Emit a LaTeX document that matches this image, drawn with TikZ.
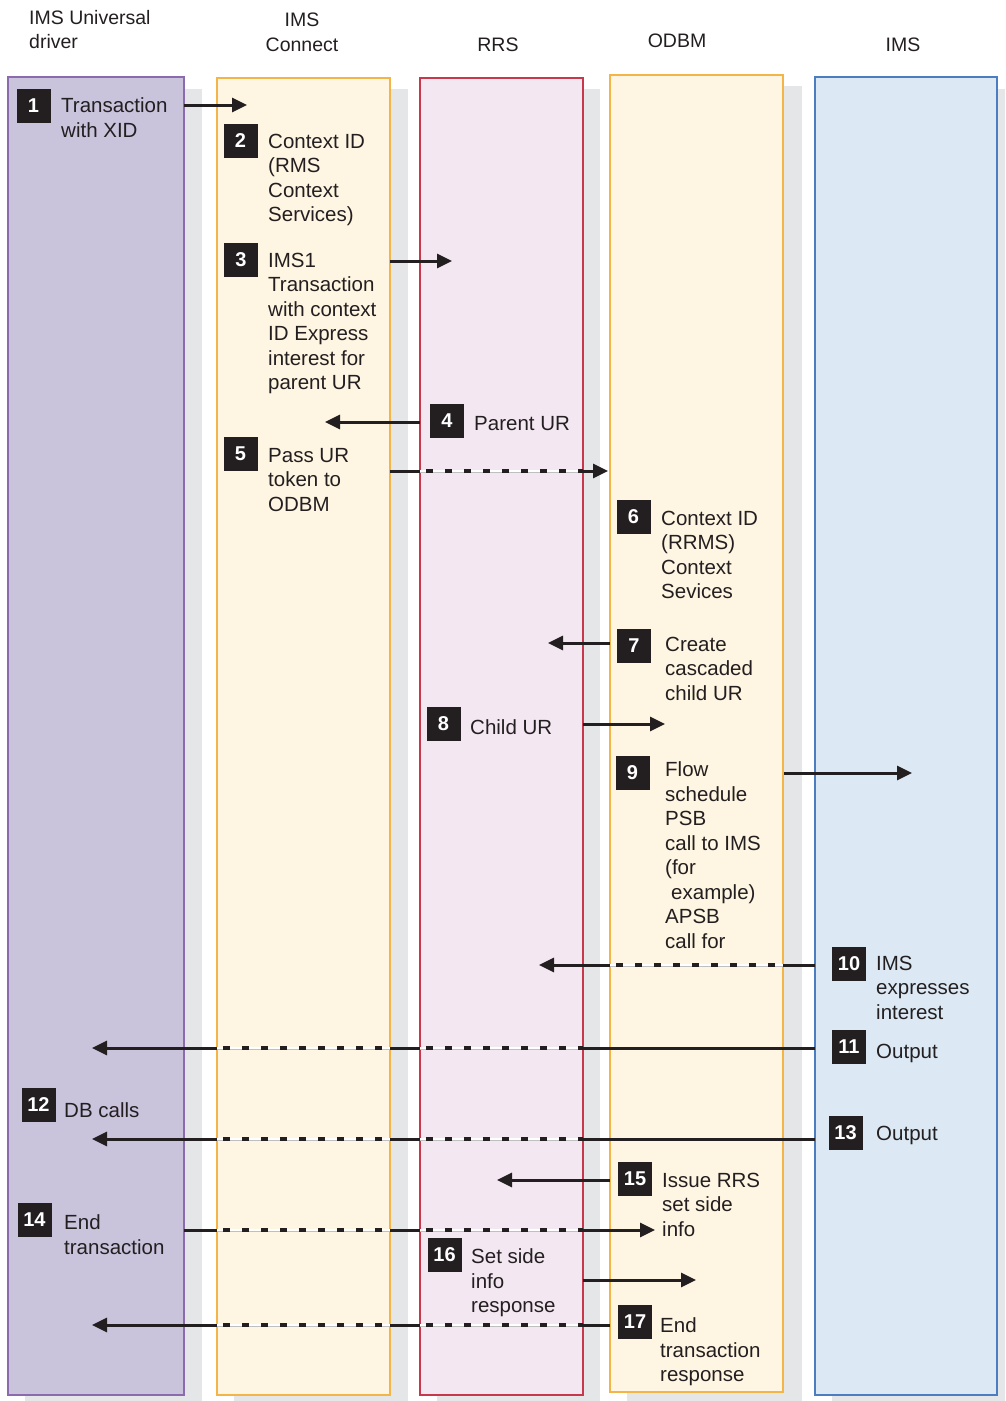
\documentclass[tikz,border=0pt]{standalone}
\usepackage{fontspec}
\setmainfont{Liberation Sans}
\usetikzlibrary{arrows.meta}
\definecolor{ink}{HTML}{231F20}
\definecolor{drvfill}{HTML}{C9C3DC}
\definecolor{drvline}{HTML}{8B6AAE}
\definecolor{confill}{HTML}{FEF6E2}
\definecolor{conline}{HTML}{F3B548}
\definecolor{rrsfill}{HTML}{F3E8F1}
\definecolor{rrsline}{HTML}{C7384D}
\definecolor{imsfill}{HTML}{DCE9F4}
\definecolor{imsline}{HTML}{4B7DC0}
\definecolor{shadowc}{HTML}{E5E6E8}
\newcommand\stepfont{\fontsize{20.5}{24.5}\selectfont}
\newcommand\badgefont{\fontsize{20}{20}\selectfont\bfseries}
\newcommand\headfont{\fontsize{19.5}{24.5}\selectfont}
\newcommand\dseg[3]{%
  \draw[gapline] (#1,#3) -- (#2,#3);
  \draw[dashline] (#1,#3) -- (#2,#3);}
\begin{document}
\begin{tikzpicture}[x=1pt,y=-1pt,
  lanebox/.style 2 args={draw=#2, fill=#1, line width=1.3pt, inner sep=0pt, outer sep=0pt},
  arr/.style={draw=ink, line width=3pt, -{Triangle[length=15pt,width=14pt]}},
  gapline/.style={draw=gray!50, line width=0.7pt, double=white, double distance=1.6pt},
  dashline/.style={draw=ink, line width=3.2pt, dash pattern=on 7pt off 12pt, dash phase=13pt},
  badge/.style={fill=ink, text=white, font=\badgefont, minimum width=34pt, minimum height=34pt, inner sep=0pt},
  steptext/.style={anchor=north west, inner sep=0pt, align=left, font=\stepfont, text=ink, yshift=7.3pt, execute at begin node=\strut},
  headtext/.style={inner sep=0pt, font=\headfont, text=ink, yshift=8pt, execute at begin node=\strut}
]
\useasboundingbox (0,0) rectangle (1005,1401);

% shadows
\fill[shadowc] (25,89) rectangle (202,1401);
\fill[shadowc] (234,89) rectangle (408,1401);
\fill[shadowc] (437,89) rectangle (600,1401);
\fill[shadowc] (627,86) rectangle (802,1401);
\fill[shadowc] (832,89) rectangle (1005,1401);

% lanes
\node[lanebox={drvfill}{drvline}, minimum width=176pt, minimum height=1318pt] (drv) at (96,736) {};
\node[lanebox={confill}{conline}, minimum width=173pt, minimum height=1317pt] (con) at (303.5,736.5) {};
\node[lanebox={rrsfill}{rrsline}, minimum width=163pt, minimum height=1317pt] (rrs) at (501.5,736.5) {};
\node[lanebox={confill}{conline}, minimum width=173pt, minimum height=1317pt] (odbm) at (696.5,733.5) {};
\node[lanebox={imsfill}{imsline}, minimum width=182pt, minimum height=1318pt] (ims) at (906,736) {};

% headers
\node[headtext, anchor=north west, align=left] (hdrv) at (29,18) {IMS Universal\\driver};
\node[headtext, anchor=north, align=center] (hcon) at (302,21) {IMS\\Connect};
\node[headtext, anchor=north] (hrrs) at (498,42) {RRS};
\node[headtext, anchor=north] (hodbm) at (677,38) {ODBM};
\node[headtext, anchor=north] (hims) at (903,42) {IMS};

% arrow end points
\coordinate (a1s) at (184,105);  \coordinate (a1e) at (247,105);
\coordinate (a3s) at (390,261);  \coordinate (a3e) at (452,261);
\coordinate (a4s) at (420,422);  \coordinate (a4e) at (325,422);
\coordinate (a5s) at (390,471);  \coordinate (a5e) at (608,471);
\coordinate (a7s) at (610,643);  \coordinate (a7e) at (548,643);
\coordinate (a8s) at (583,724);  \coordinate (a8e) at (665,724);
\coordinate (a9s) at (784,773);  \coordinate (a9e) at (912,773);
\coordinate (a10s) at (815,965); \coordinate (a10e) at (539,965);
\coordinate (a11s) at (815,1048); \coordinate (a11e) at (92,1048);
\coordinate (a13s) at (815,1139); \coordinate (a13e) at (92,1139);
\coordinate (a15s) at (610,1180); \coordinate (a15e) at (497,1180);
\coordinate (a14s) at (184,1230); \coordinate (a14e) at (655,1230);
\coordinate (a16s) at (583,1280); \coordinate (a16e) at (696,1280);
\coordinate (a17s) at (610,1325); \coordinate (a17e) at (92,1325);

% arrows
\draw[arr] (a1s) -- (a1e);
\draw[arr] (a3s) -- (a3e);
\draw[arr] (a4s) -- (a4e);
\draw[arr] (a5s) -- (a5e);
\draw[arr] (a7s) -- (a7e);
\draw[arr] (a8s) -- (a8e);
\draw[arr] (a9s) -- (a9e);
\draw[arr] (a10s) -- (a10e);
\draw[arr] (a11s) -- (a11e);
\draw[arr] (a13s) -- (a13e);
\draw[arr] (a15s) -- (a15e);
\draw[arr] (a14s) -- (a14e);
\draw[arr] (a16s) -- (a16e);
\draw[arr] (a17s) -- (a17e);

% dashed passages through uninvolved lanes
\dseg{420}{583}{471}
\dseg{610}{783}{965}
\dseg{217}{390}{1048} \dseg{420}{583}{1048}
\dseg{217}{390}{1139} \dseg{420}{583}{1139}
\dseg{217}{390}{1230} \dseg{420}{583}{1230}
\dseg{217}{390}{1325} \dseg{420}{583}{1325}

% badges
\node[badge] (b1) at (33.5,105.5) {1};
\node[badge] (b2) at (240.5,141) {2};
\node[badge] (b3) at (241,259.5) {3};
\node[badge] (b4) at (447,420.5) {4};
\node[badge] (b5) at (240.5,454) {5};
\node[badge] (b6) at (633.5,517) {6};
\node[badge] (b7) at (634,646) {7};
\node[badge] (b8) at (443.5,724) {8};
\node[badge] (b9) at (632.5,772.5) {9};
\node[badge] (b10) at (849,963.5) {10};
\node[badge] (b11) at (849,1047) {11};
\node[badge] (b12) at (38.5,1104.5) {12};
\node[badge] (b13) at (845.5,1133) {13};
\node[badge] (b14) at (34.5,1220) {14};
\node[badge] (b15) at (635,1179) {15};
\node[badge] (b16) at (444.5,1254.5) {16};
\node[badge] (b17) at (635,1322) {17};

% step texts
\node[steptext] (t1) at (61,105) {Transaction\\with XID};
\node[steptext] (t2) at (268,141) {Context ID\\(RMS\\Context\\Services)};
\node[steptext] (t3) at (268,260) {IMS1\\Transaction\\with context\\ID Express\\interest for\\parent UR};
\node[steptext] (t4) at (474,420) {Parent UR};
\node[steptext] (t5) at (268,455) {Pass UR\\token to\\ODBM};
\node[steptext] (t6) at (661,518) {Context ID\\(RRMS)\\Context\\Sevices};
\node[steptext] (t7) at (665,644) {Create\\cascaded\\child UR};
\node[steptext] (t8) at (470,724) {Child UR};
\node[steptext] (t9) at (665,769) {Flow\\schedule\\PSB\\call to IMS\\(for\\\hspace*{6pt}example)\\APSB\\call for};
\node[steptext] (t10) at (876,963) {IMS\\expresses\\interest};
\node[steptext] (t11) at (876,1048) {Output};
\node[steptext] (t12) at (64,1107) {DB calls};
\node[steptext] (t13) at (876,1130) {Output};
\node[steptext] (t14) at (64,1222) {End\\transaction};
\node[steptext] (t15) at (662,1180) {Issue RRS\\set side\\info};
\node[steptext] (t16) at (471,1256) {Set side\\info\\response};
\node[steptext] (t17) at (660,1325) {End\\transaction\\response};
\end{tikzpicture}
\end{document}
